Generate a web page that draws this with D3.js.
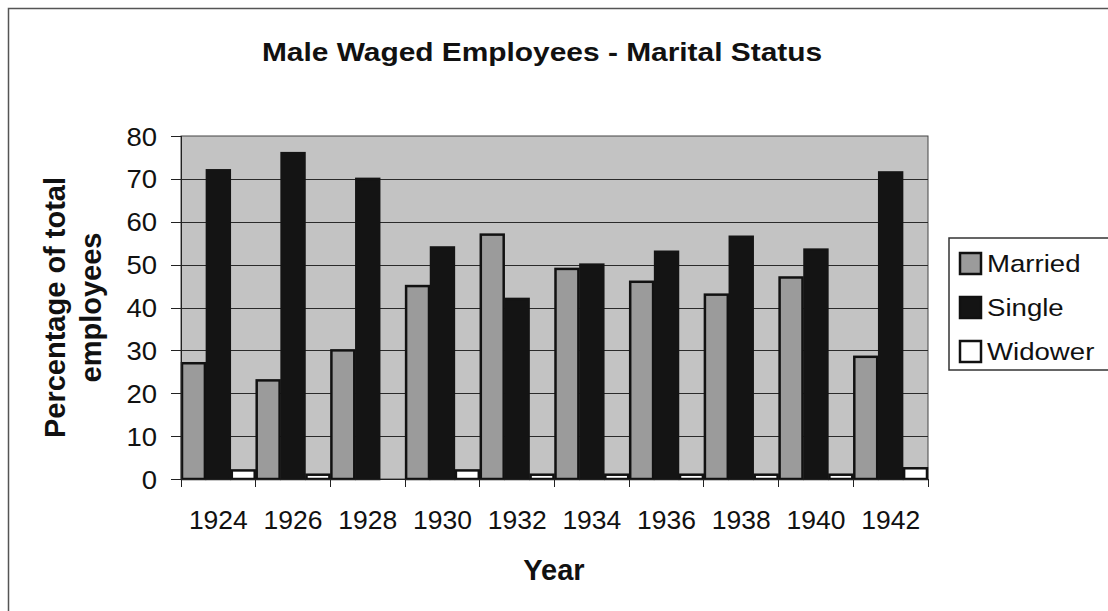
<!DOCTYPE html>
<html>
  <head>
    <meta charset="utf-8">
    <title>Male Waged Employees - Marital Status</title>
    <style type="text/css">
      body { margin: 0; background: #fff; }
      text { font-family: "Liberation Sans", Arial, sans-serif; fill: #111; }
      .axis path, .axis line { stroke: #222; stroke-width: 1; shape-rendering: crispEdges; }
      .grid line { stroke: #2a2a2a; stroke-width: 1; shape-rendering: crispEdges; }
      .grid path { display: none; }
    </style>
  </head>
  <body>
    <div id="main"></div>
    <script src="https://d3js.org/d3.v7.min.js"></script>
    <script>
    // values
    var years = ["1924", "1926", "1928", "1930", "1932", "1934", "1936", "1938", "1940", "1942"];
    var married = [27, 23, 30, 45, 57, 49, 46, 43, 47, 28.5];
    var single = [72, 76, 70, 54, 42, 50, 53, 56.5, 53.5, 71.5];
    var widower = [2, 1, 0, 2, 1, 1, 1, 1, 1, 2.5];
    var seriesNames = ["Married", "Single", "Widower"];
    var yTicks = [0, 10, 20, 30, 40, 50, 60, 70, 80];

    var W = 1108, H = 611;
    var margin = {top: 136, left: 181},
        width = 747,
        height = 343;

    var colors = {Married: "#9b9b9b", Single: "#141414", Widower: "#ffffff"};
    var strokes = {Married: "#111", Single: "#141414", Widower: "#111"};

    var svg = d3.select("#main").append("svg")
        .attr("width", W)
        .attr("height", H);

    // scanned page frame
    svg.append("path")
        .attr("d", "M8.5," + H + "V8.5H" + W)
        .attr("fill", "none")
        .attr("stroke", "#555")
        .attr("stroke-width", 1.5);

    var g = svg.append("g")
        .attr("transform", "translate(" + margin.left + "," + margin.top + ")");

    var x = d3.scaleBand().domain(years).range([0, width]).padding(0);
    var x1 = d3.scaleBand().domain(seriesNames).range([0, x.bandwidth()]).padding(0);
    var y = d3.scaleLinear().domain([0, 80]).range([height, 0]);

    // plot background
    g.append("rect")
        .attr("width", width)
        .attr("height", height)
        .attr("fill", "#c3c3c3")
        .attr("stroke", "#444")
        .attr("stroke-width", 1);

    // gridlines
    g.append("g")
        .attr("class", "grid")
        .call(d3.axisLeft(y).tickValues(yTicks.slice(1, -1)).tickSize(-width).tickFormat(""));

    var rows = years.map(function(yr, i) {
      return {year: yr, Married: married[i], Single: single[i], Widower: widower[i]};
    });

    var groups = g.selectAll(".year")
        .data(rows)
      .enter().append("g")
        .attr("class", "year")
        .attr("transform", function(d) { return "translate(" + x(d.year) + ",0)"; });

    groups.selectAll("rect")
        .data(function(d) {
          return seriesNames.map(function(k) { return {key: k, value: d[k]}; });
        })
      .enter().append("rect")
        .filter(function(d) { return d.value > 0; })
        .attr("x", function(d) { return x1(d.key) + 1; })
        .attr("width", x1.bandwidth() - 2)
        .attr("y", function(d) { return y(d.value); })
        .attr("height", function(d) { return height - y(d.value); })
        .attr("fill", function(d) { return colors[d.key]; })
        .attr("stroke", function(d) { return strokes[d.key]; })
        .attr("stroke-width", 2.5);

    // y axis
    var yAxis = g.append("g")
        .attr("class", "axis")
        .call(d3.axisLeft(y).tickValues(yTicks).tickSize(10).tickPadding(14));
    yAxis.selectAll("text")
        .style("font-size", "25px")
        .attr("transform", "scale(1.1,1)")
        .attr("x", -24 / 1.1)
        .attr("dy", "0.36em");

    // x axis: labels at centers, ticks at category boundaries
    var xAxis = g.append("g")
        .attr("class", "axis")
        .attr("transform", "translate(0," + height + ")")
        .call(d3.axisBottom(x).tickSize(0).tickPadding(32));
    xAxis.selectAll("text")
        .style("font-size", "25px")
        .attr("transform", "scale(1.06,1)");
    xAxis.selectAll(".edge")
        .data(years.concat(["end"]))
      .enter().append("line")
        .attr("class", "edge")
        .attr("x1", function(d) { return d === "end" ? width : x(d); })
        .attr("x2", function(d) { return d === "end" ? width : x(d); })
        .attr("y1", 0)
        .attr("y2", 8);

    // title
    svg.append("g")
        .attr("transform", "translate(542,61)")
      .append("text")
        .attr("text-anchor", "middle")
        .attr("transform", "scale(1.15,1)")
        .style("font-size", "26px")
        .style("font-weight", "bold")
        .text("Male Waged Employees - Marital Status");

    // axis titles
    svg.append("text")
        .attr("x", 554)
        .attr("y", 580)
        .attr("text-anchor", "middle")
        .style("font-size", "29px")
        .style("font-weight", "bold")
        .text("Year");

    var yTitle = svg.append("text")
        .attr("transform", "translate(65," + (margin.top + height / 2) + ") rotate(-90)")
        .attr("text-anchor", "middle")
        .style("font-size", "29px")
        .style("font-weight", "bold");
    yTitle.append("tspan").attr("x", 0).attr("dy", 0).text("Percentage of total");
    yTitle.append("tspan").attr("x", 0).attr("dy", "1.25em").text("employees");

    // legend
    var legend = svg.append("g").attr("transform", "translate(949,238)");
    legend.append("rect")
        .attr("width", 200)
        .attr("height", 132)
        .attr("fill", "#fff")
        .attr("stroke", "#333")
        .attr("stroke-width", 1.5);

    var item = legend.selectAll(".item")
        .data(seriesNames)
      .enter().append("g")
        .attr("class", "item")
        .attr("transform", function(d, i) { return "translate(0," + (25 + i * 44) + ")"; });
    item.append("rect")
        .attr("x", 11)
        .attr("y", -10)
        .attr("width", 21)
        .attr("height", 21)
        .attr("fill", function(d) { return colors[d]; })
        .attr("stroke", "#111")
        .attr("stroke-width", 2.5);
    item.append("g")
        .attr("transform", "translate(38,0)")
      .append("text")
        .attr("transform", "scale(1.15,1)")
        .attr("dy", "0.36em")
        .style("font-size", "24px")
        .text(function(d) { return d; });
    </script>
  </body>
</html>
